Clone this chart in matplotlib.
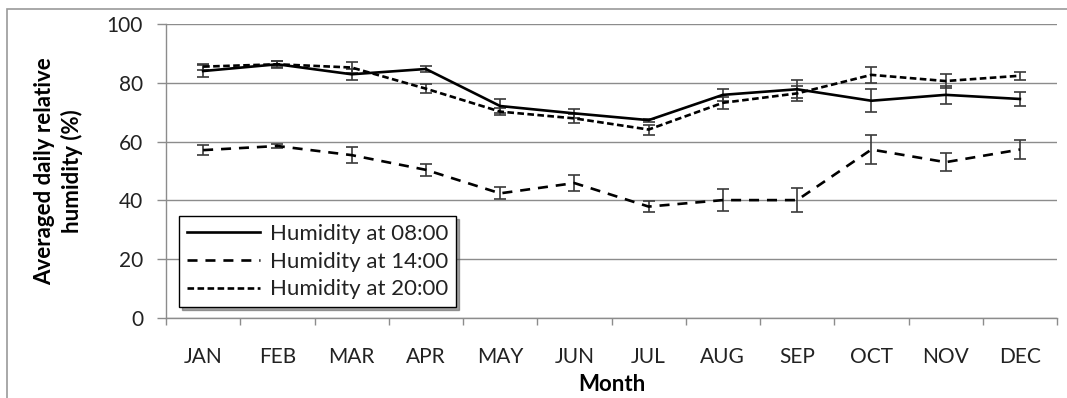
import numpy as np
import matplotlib
matplotlib.use("Agg")
import matplotlib.pyplot as plt
from matplotlib.patches import Rectangle
from matplotlib.lines import Line2D

plt.rcParams['font.family'] = ['Lato', 'DejaVu Sans']

months = ['JAN', 'FEB', 'MAR', 'APR', 'MAY', 'JUN', 'JUL', 'AUG', 'SEP', 'OCT', 'NOV', 'DEC']

# monthly means and error bars (%)
hum_08 = [84.0, 86.3, 82.9, 84.7, 72.1, 69.6, 67.3, 75.9, 77.8, 73.9, 75.9, 74.5]
err_08 = [2.0, 1.2, 1.8, 1.0, 2.5, 1.5, 0.5, 2.0, 3.0, 4.0, 3.0, 2.5]
hum_14 = [57.1, 58.5, 55.4, 50.4, 42.4, 45.9, 37.9, 40.1, 40.1, 57.3, 53.0, 57.3]
err_14 = [1.8, 0.8, 2.8, 2.0, 2.0, 2.8, 2.0, 3.7, 4.2, 4.8, 3.0, 3.2]
hum_20 = [85.5, 86.3, 85.2, 78.0, 70.2, 67.9, 64.1, 73.2, 76.4, 82.7, 80.6, 82.4]
err_20 = [1.0, 1.0, 2.0, 1.5, 1.2, 1.5, 1.7, 2.0, 2.5, 2.7, 2.5, 1.4]

labels = ['Humidity at 08:00', 'Humidity at 14:00', 'Humidity at 20:00']
styles = [dict(ls='-'), dict(dashes=(3.8, 3.0)), dict(dashes=(2.5, 1.3))]

fig = plt.figure(figsize=(10.67, 3.98), dpi=100)
ax = fig.add_axes([166/1067, 1 - 318/398, 891/1067, 294/398])

# outer chart frame
fig.patches.append(Rectangle((7/1067, -0.1), 1.2, 1 - 9/398 + 0.1, transform=fig.transFigure,
                             fill=False, edgecolor='#9a9a9a', linewidth=1.2))

x = np.arange(len(months))
err_kw = dict(ecolor='#3a3a3a', elinewidth=1.2, capsize=4.3, capthick=1.2)
lw = 1.9

for vals, errs, st in zip([hum_08, hum_14, hum_20], [err_08, err_14, err_20], styles):
    ax.errorbar(x, vals, yerr=errs, color='black', lw=lw, **st, **err_kw)

ax.set_xlim(-0.5, 11.5)
ax.set_ylim(0, 100)
ax.set_yticks(np.arange(0, 101, 20))
ax.yaxis.grid(True, color='#8c8c8c', lw=1.0)
ax.set_axisbelow(True)

ax.set_xticks(np.arange(-0.5, 12, 1))
ax.set_xticklabels([])
ax.set_xticks(x, minor=True)
ax.set_xticklabels(months, minor=True)
ax.tick_params(axis='x', which='major', length=5, color='#8c8c8c', width=1.0, direction='out')
ax.tick_params(axis='x', which='minor', length=0, pad=21, labelsize=15, labelcolor='#222222')
ax.tick_params(axis='y', length=6.5, color='#8c8c8c', width=1.0, labelsize=15, pad=10,
               labelcolor='#222222')

for side in ['top', 'right']:
    ax.spines[side].set_visible(False)
for side in ['left', 'bottom']:
    ax.spines[side].set_color('#8c8c8c')
    ax.spines[side].set_linewidth(1.0)

ax.set_xlabel('Month', fontsize=16, fontweight='bold')
ax.xaxis.set_label_coords(0.5, -0.19)
ax.set_ylabel('Averaged daily relative\nhumidity (%)', fontsize=16, fontweight='bold',
              linespacing=1.35)
ax.yaxis.set_label_coords(-0.093, 0.5)

handles = [Line2D([], [], color='black', lw=lw, **st) for st in styles]
leg = ax.legend(handles, labels, loc='lower left', bbox_to_anchor=(0.0146, 0.037),
                borderaxespad=0, fancybox=False, shadow=True, framealpha=1,
                edgecolor='black', fontsize=16, handlelength=3.3, handletextpad=0.45,
                labelspacing=0.35, borderpad=0.35, labelcolor='#222222')
leg.get_frame().set_linewidth(1.0)

fig.savefig('out.png', dpi=100)
